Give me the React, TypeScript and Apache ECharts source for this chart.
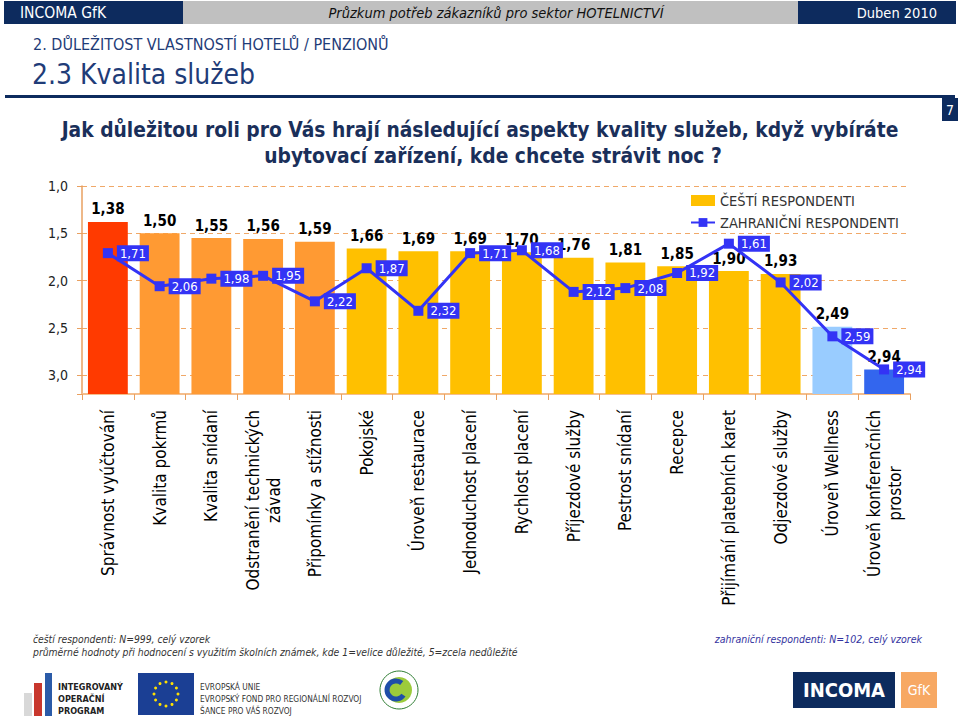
import React, { useEffect, useRef } from 'react';
import * as echarts from 'echarts';

// ---------- data ----------
const categories = [
  'Správnost vyúčtování',
  'Kvalita pokrmů',
  'Kvalita snídaní',
  'Odstranění technických\nzávad',
  'Připomínky a stížnosti',
  'Pokojské',
  'Úroveň restaurace',
  'Jednoduchost placení',
  'Rychlost placení',
  'Příjezdové služby',
  'Pestrost snídaní',
  'Recepce',
  'Přijímání platebních karet',
  'Odjezdové služby',
  'Úroveň Wellness',
  'Úroveň konferenčních\nprostor',
];
const czechValues = [1.38, 1.5, 1.55, 1.56, 1.59, 1.66, 1.69, 1.69, 1.7, 1.76, 1.81, 1.85, 1.9, 1.93, 2.49, 2.94];
const foreignValues = [1.71, 2.06, 1.98, 1.95, 2.22, 1.87, 2.32, 1.71, 1.68, 2.12, 2.08, 1.92, 1.61, 2.02, 2.59, 2.94];
const seriesNames = ['ČEŠTÍ RESPONDENTI', 'ZAHRANIČNÍ RESPONDENTI'];
const Y_MIN = 1;
const Y_MAX = 3.2;
const Y_STEP = 0.5;

// ---------- styles ----------
const barColors = [
  '#FF3A00', '#FF9A33', '#FF9A33', '#FF9A33', '#FF9A33',
  '#FFC000', '#FFC000', '#FFC000', '#FFC000', '#FFC000', '#FFC000', '#FFC000', '#FFC000', '#FFC000',
  '#99CCFF', '#3366EE',
];
const FONT = "'DejaVu Sans Condensed', 'Liberation Sans', sans-serif";
const NAVY = '#0D2B5E';
const LINE_BLUE = '#3333F5';
const ORANGE = '#E9A060';

const fmt = (v: number, d = 2) => v.toFixed(d).replace('.', ',');

export default function App() {
  const ref = useRef<HTMLDivElement>(null);

  useEffect(() => {
    if (!ref.current) return;
    const chart = echarts.init(ref.current, undefined, { renderer: 'svg' });

    const stars: any[] = [];
    for (let k = 0; k < 12; k++) {
      const a = (k / 12) * Math.PI * 2;
      stars.push({
        type: 'circle',
        shape: { cx: 166 + 12 * Math.cos(a), cy: 694 + 12 * Math.sin(a), r: 1.5 },
        style: { fill: '#FFE000' },
      });
    }

    const graphic: any[] = [
      // header
      { type: 'rect', shape: { x: 4, y: 1, width: 179, height: 23 }, style: { fill: NAVY } },
      { type: 'rect', shape: { x: 183, y: 1, width: 615, height: 23 }, style: { fill: '#C0C0C0' } },
      { type: 'rect', shape: { x: 798, y: 1, width: 158, height: 23 }, style: { fill: NAVY } },
      { type: 'text', x: 20, y: 13, style: { text: 'INCOMA GfK', fill: '#fff', fontSize: 15.5, fontFamily: FONT, verticalAlign: 'middle' } },
      { type: 'text', x: 496, y: 13, style: { text: 'Průzkum potřeb zákazníků pro sektor HOTELNICTVÍ', fill: '#111', fontSize: 14.5, fontStyle: 'italic', fontFamily: FONT, align: 'center', verticalAlign: 'middle' } },
      { type: 'text', x: 937, y: 13, style: { text: 'Duben 2010', fill: '#fff', fontSize: 14.5, fontFamily: FONT, align: 'right', verticalAlign: 'middle' } },
      // section titles
      { type: 'text', x: 33, y: 44, style: { text: '2. DŮLEŽITOST VLASTNOSTÍ HOTELŮ / PENZIONŮ', fill: '#1F3C78', fontSize: 16, fontFamily: FONT, verticalAlign: 'middle' } },
      { type: 'text', x: 32, y: 74, style: { text: '2.3 Kvalita služeb', fill: '#1F3C78', fontSize: 28, fontFamily: FONT, verticalAlign: 'middle' } },
      { type: 'rect', shape: { x: 5, y: 95, width: 950, height: 3 }, style: { fill: NAVY } },
      { type: 'rect', shape: { x: 942, y: 98, width: 16, height: 23 }, style: { fill: NAVY } },
      { type: 'text', x: 950, y: 110, style: { text: '7', fill: '#fff', fontSize: 14, fontFamily: FONT, align: 'center', verticalAlign: 'middle' } },
      // question
      { type: 'text', x: 480, y: 130, style: { text: 'Jak důležitou roli pro Vás hrají následující aspekty kvality služeb, když vybíráte', fill: '#1A2F5A', fontSize: 20.8, fontWeight: 'bold', fontFamily: FONT, align: 'center', verticalAlign: 'middle' } },
      { type: 'text', x: 493, y: 156, style: { text: 'ubytovací zařízení, kde chcete strávit noc ?', fill: '#1A2F5A', fontSize: 20.8, fontWeight: 'bold', fontFamily: FONT, align: 'center', verticalAlign: 'middle' } },
      // footnotes
      { type: 'text', x: 33, y: 639, style: { text: 'čeští respondenti: N=999, celý vzorek', fill: '#333', fontSize: 10.3, fontStyle: 'italic', fontFamily: FONT, verticalAlign: 'middle' } },
      { type: 'text', x: 33, y: 652, style: { text: 'průměrné hodnoty při hodnocení s využitím školních známek, kde 1=velice důležité, 5=zcela nedůležité', fill: '#333', fontSize: 10.3, fontStyle: 'italic', fontFamily: FONT, verticalAlign: 'middle' } },
      { type: 'text', x: 922, y: 639, style: { text: 'zahraniční respondenti: N=102, celý vzorek', fill: '#3333A0', fontSize: 10.5, fontStyle: 'italic', fontFamily: FONT, align: 'right', verticalAlign: 'middle' } },
      // IOP logo
      { type: 'rect', shape: { x: 24, y: 693, width: 8, height: 23 }, style: { fill: '#D8D8D8' } },
      { type: 'rect', shape: { x: 34, y: 683, width: 8, height: 33 }, style: { fill: '#C8372D' } },
      { type: 'rect', shape: { x: 45, y: 673, width: 7, height: 43 }, style: { fill: '#2B5BA8' } },
      { type: 'text', x: 58, y: 687, style: { text: 'INTEGROVANÝ', fill: '#222', fontSize: 9, fontWeight: 'bold', fontFamily: FONT, verticalAlign: 'middle' } },
      { type: 'text', x: 58, y: 699, style: { text: 'OPERAČNÍ', fill: '#222', fontSize: 9, fontWeight: 'bold', fontFamily: FONT, verticalAlign: 'middle' } },
      { type: 'text', x: 58, y: 711, style: { text: 'PROGRAM', fill: '#222', fontSize: 9, fontWeight: 'bold', fontFamily: FONT, verticalAlign: 'middle' } },
      // EU flag
      { type: 'rect', shape: { x: 138, y: 673, width: 56, height: 42 }, style: { fill: '#1B3F94' } },
      ...stars,
      { type: 'text', x: 200, y: 687, style: { text: 'EVROPSKÁ UNIE', fill: '#333', fontSize: 8.3, fontFamily: FONT, verticalAlign: 'middle' } },
      { type: 'text', x: 200, y: 699, style: { text: 'EVROPSKÝ FOND PRO REGIONÁLNÍ ROZVOJ', fill: '#333', fontSize: 8.3, fontFamily: FONT, verticalAlign: 'middle' } },
      { type: 'text', x: 200, y: 711, style: { text: 'ŠANCE PRO VÁŠ ROZVOJ', fill: '#333', fontSize: 8.3, fontFamily: FONT, verticalAlign: 'middle' } },
      // ministry logo
      { type: 'circle', shape: { cx: 399, cy: 690, r: 19 }, style: { fill: '#fff', stroke: '#2E7D32', lineWidth: 1 } },
      { type: 'circle', shape: { cx: 399, cy: 690, r: 13 }, style: { fill: '#9CCB3B' } },
      { type: 'arc', shape: { cx: 396, cy: 690, r: 9, startAngle: 0.6, endAngle: 5.4 }, style: { stroke: '#1F4EA8', lineWidth: 5, fill: 'none' } },
      // INCOMA GfK logo
      { type: 'rect', shape: { x: 793, y: 672, width: 102, height: 36 }, style: { fill: NAVY } },
      { type: 'text', x: 844, y: 690, style: { text: 'INCOMA', fill: '#fff', fontSize: 20, fontWeight: 'bold', fontFamily: FONT, align: 'center', verticalAlign: 'middle' } },
      { type: 'rect', shape: { x: 901, y: 672, width: 36, height: 36 }, style: { fill: '#F7A863' } },
      { type: 'text', x: 919, y: 690, style: { text: 'GfK', fill: '#fff', fontSize: 14, fontFamily: FONT, align: 'center', verticalAlign: 'middle' } },
    ];

    const option: any = {
      animation: false,
      backgroundColor: '#ffffff',
      textStyle: { fontFamily: FONT },
      graphic,
      grid: { left: 82, right: 50, top: 186, bottom: 322, containLabel: false },
      legend: {
        orient: 'vertical',
        left: 685,
        top: 188,
        itemWidth: 24,
        itemHeight: 11,
        itemGap: 7,
        selectedMode: false,
        textStyle: { fontSize: 14.5, color: '#333', fontFamily: FONT },
        data: [
          { name: seriesNames[0], icon: 'rect', itemStyle: { color: '#FFC000' } },
          { name: seriesNames[1] },
        ],
      },
      xAxis: {
        type: 'category',
        data: categories,
        axisLine: { lineStyle: { color: '#F5BE8C', width: 2 } },
        axisTick: { show: true, interval: 0, length: 6, lineStyle: { color: ORANGE } },
        axisLabel: {
          interval: 0,
          rotate: 90,
          margin: 16,
          formatter: (v: string) => v.split('\n').map((l) => `{c|${l}}`).join('\n'),
          rich: { c: { align: 'center', fontSize: 17, lineHeight: 21, color: '#000', fontFamily: FONT } },
        },
      },
      yAxis: {
        type: 'value',
        inverse: true,
        min: Y_MIN,
        max: Y_MAX,
        interval: Y_STEP,
        axisLine: { show: true, lineStyle: { color: ORANGE, width: 1.5 } },
        axisTick: { show: true, length: 5, lineStyle: { color: ORANGE } },
        splitLine: { show: true, lineStyle: { color: '#F0A868', type: [5, 4], width: 1 } },
        axisLabel: {
          margin: 14,
          fontSize: 14,
          color: '#222',
          fontFamily: FONT,
          formatter: (v: number) => (v > 3.01 ? '' : fmt(v, 1)),
        },
      },
      series: [
        {
          type: 'custom',
          name: seriesNames[0],
          z: 2,
          itemStyle: { color: '#FFC000' },
          data: czechValues.map((v, i) => [i, v]),
          encode: { x: 0, y: 1 },
          renderItem: (params: any, api: any) => {
            const idx = api.value(0);
            const v = api.value(1);
            const topPt = api.coord([idx, v]);
            const basePt = api.coord([idx, Y_MAX]);
            const w = api.size([1, 0])[0] * 0.77;
            return {
              type: 'group',
              children: [
                {
                  type: 'rect',
                  shape: { x: topPt[0] - w / 2, y: topPt[1], width: w, height: basePt[1] - topPt[1] },
                  style: { fill: barColors[idx] },
                },
                {
                  type: 'text',
                  x: topPt[0],
                  y: topPt[1] - 5,
                  style: {
                    text: fmt(v),
                    align: 'center',
                    verticalAlign: 'bottom',
                    fontSize: 15,
                    fontWeight: 'bold',
                    fontFamily: FONT,
                    fill: '#000',
                  },
                },
              ],
            };
          },
        },
        {
          type: 'line',
          name: seriesNames[1],
          z: 5,
          data: foreignValues,
          symbol: 'rect',
          symbolSize: 10,
          itemStyle: { color: LINE_BLUE },
          lineStyle: { color: LINE_BLUE, width: 3 },
          label: {
            show: true,
            position: 'right',
            distance: 4,
            formatter: (p: any) => fmt(p.value),
            color: '#fff',
            backgroundColor: LINE_BLUE,
            padding: [2, 3, 1, 3],
            fontSize: 13,
            fontFamily: FONT,
          },
        },
      ],
    };

    chart.setOption(option);
    return () => chart.dispose();
  }, []);

  return <div ref={ref} style={{ position: 'absolute', left: 0, top: 0, width: 960, height: 716 }} />;
}
